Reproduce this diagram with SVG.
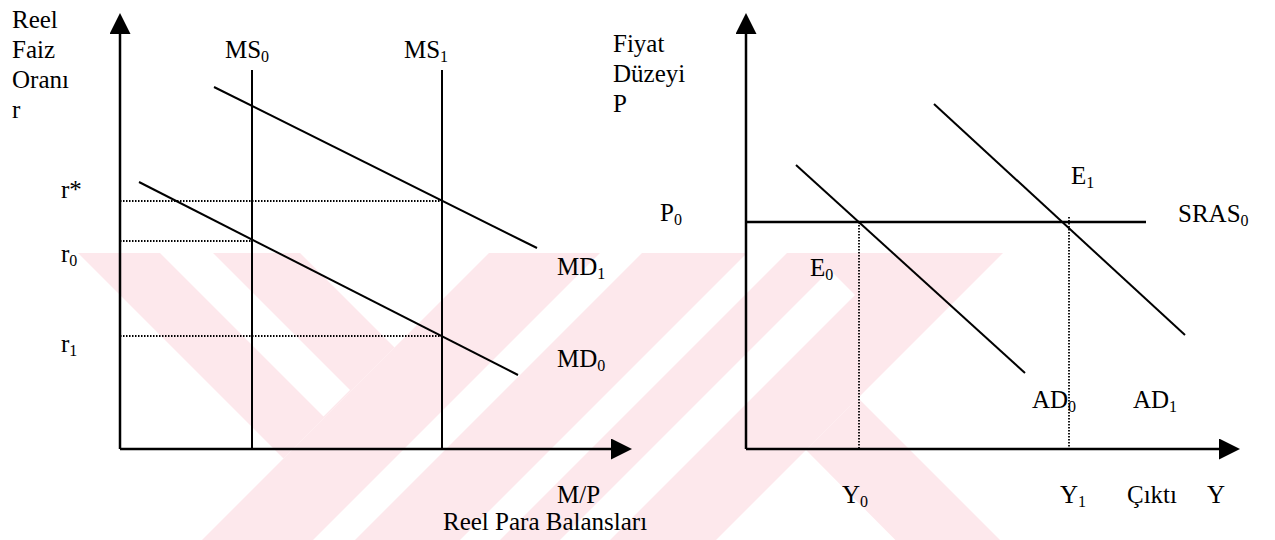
<svg xmlns="http://www.w3.org/2000/svg" width="1275" height="540" viewBox="0 0 1275 540">
  <style>
    .t { font-family: "Liberation Serif", "Times New Roman", serif; font-size: 25px; fill: #000; }
    .s { font-size: 16px; }
    .ln { stroke: #000; stroke-width: 2; fill: none; }
    .ax { stroke: #000; stroke-width: 2.5; fill: none; }
    .dot { stroke: #000; stroke-width: 1.8; stroke-dasharray: 1.5 1.5; fill: none; }
    .wm { fill: #fde8ec; }
    .wh { fill: #ffffff; }
  </style>
  <defs>
    <marker id="arr" markerUnits="userSpaceOnUse" markerWidth="22" markerHeight="22" refX="0" refY="10.5" orient="auto">
      <path d="M0,0 L21,10.5 L0,21 Z" fill="#000"/>
    </marker>
    <clipPath id="wmclip">
      <rect x="0" y="253" width="1275" height="287"/>
    </clipPath>
  </defs>
  <rect width="1275" height="540" fill="#fff"/>

  <g id="watermark" clip-path="url(#wmclip)">
    <polygon class="wm" points="25,200 247,200 394.5,347.5 283.5,458.5"/>
    <polygon class="wh" points="107,200 160,200 350,390 323.5,416.5"/>
    <polygon class="wm" points="542,200 653,200 253,600 142,600"/>
    <polygon class="wm" points="695,200 800,200 400,600 295,600"/>
    <polygon class="wm" points="840,200 1056,200 656,600 440,600"/>
    <polygon class="wh" points="830,270 855,295 550,600 500,600"/>
    <polygon class="wm" points="858,398 910,450 1060,600 955,600 806,450"/>
  </g>

  <g id="left-panel">
    <g id="left-axes">
      <line class="ax" x1="120" y1="449" x2="120" y2="34" marker-end="url(#arr)"/>
      <line class="ax" x1="120" y1="449" x2="611" y2="449" marker-end="url(#arr)"/>
    </g>
    <g id="money-supply">
      <line class="ln" x1="252" y1="70" x2="252" y2="449"/>
      <line class="ln" x1="442" y1="70" x2="442" y2="449"/>
    </g>
    <g id="money-demand">
      <line class="ln" x1="214" y1="87" x2="537" y2="248"/>
      <line class="ln" x1="139" y1="182" x2="518" y2="375"/>
    </g>
    <g id="left-guides">
      <line class="dot" x1="120" y1="201" x2="442" y2="201"/>
      <line class="dot" x1="120" y1="241" x2="252" y2="241"/>
      <line class="dot" x1="120" y1="336" x2="442" y2="336"/>
    </g>
    <g id="left-labels">
      <text class="t" x="12" y="28">Reel</text>
      <text class="t" x="12" y="58">Faiz</text>
      <text class="t" x="12" y="88">Oranı</text>
      <text class="t" x="12" y="118">r</text>
      <text class="t" x="247" y="58" text-anchor="middle">MS<tspan class="s" dy="4">0</tspan></text>
      <text class="t" x="426" y="58" text-anchor="middle">MS<tspan class="s" dy="4">1</tspan></text>
      <text class="t" x="61" y="198">r*</text>
      <text class="t" x="61" y="262">r<tspan class="s" dy="4">0</tspan></text>
      <text class="t" x="61" y="352">r<tspan class="s" dy="4">1</tspan></text>
      <text class="t" x="557" y="275">MD<tspan class="s" dy="4">1</tspan></text>
      <text class="t" x="557" y="367">MD<tspan class="s" dy="4">0</tspan></text>
      <text class="t" x="557" y="503">M/P</text>
      <text class="t" x="443" y="530">Reel Para Balansları</text>
    </g>
  </g>

  <g id="right-panel">
    <g id="right-axes">
      <line class="ax" x1="746" y1="449" x2="746" y2="34" marker-end="url(#arr)"/>
      <line class="ax" x1="746" y1="449" x2="1219" y2="449" marker-end="url(#arr)"/>
    </g>
    <g id="sras">
      <line class="ax" x1="746" y1="222" x2="1146" y2="222"/>
    </g>
    <g id="aggregate-demand">
      <line class="ln" x1="796" y1="165" x2="1025" y2="373"/>
      <line class="ln" x1="934" y1="104" x2="1185" y2="335"/>
    </g>
    <g id="right-guides">
      <line class="dot" x1="859" y1="222" x2="859" y2="449"/>
      <line class="dot" x1="1069" y1="217" x2="1069" y2="449"/>
    </g>
    <g id="right-labels">
      <text class="t" x="613" y="52">Fiyat</text>
      <text class="t" x="613" y="82">Düzeyi</text>
      <text class="t" x="613" y="112">P</text>
      <text class="t" x="660" y="221">P<tspan class="s" dy="4">0</tspan></text>
      <text class="t" x="1178" y="222">SRAS<tspan class="s" dy="4">0</tspan></text>
      <text class="t" x="1071" y="184">E<tspan class="s" dy="4">1</tspan></text>
      <text class="t" x="810" y="276">E<tspan class="s" dy="4">0</tspan></text>
      <text class="t" x="1032" y="408">AD<tspan class="s" dy="4">0</tspan></text>
      <text class="t" x="1133" y="408">AD<tspan class="s" dy="4">1</tspan></text>
      <text class="t" x="842" y="503">Y<tspan class="s" dy="4">0</tspan></text>
      <text class="t" x="1060" y="503">Y<tspan class="s" dy="4">1</tspan></text>
      <text class="t" x="1127" y="503">Çıktı</text>
      <text class="t" x="1207" y="503">Y</text>
    </g>
  </g>
</svg>
